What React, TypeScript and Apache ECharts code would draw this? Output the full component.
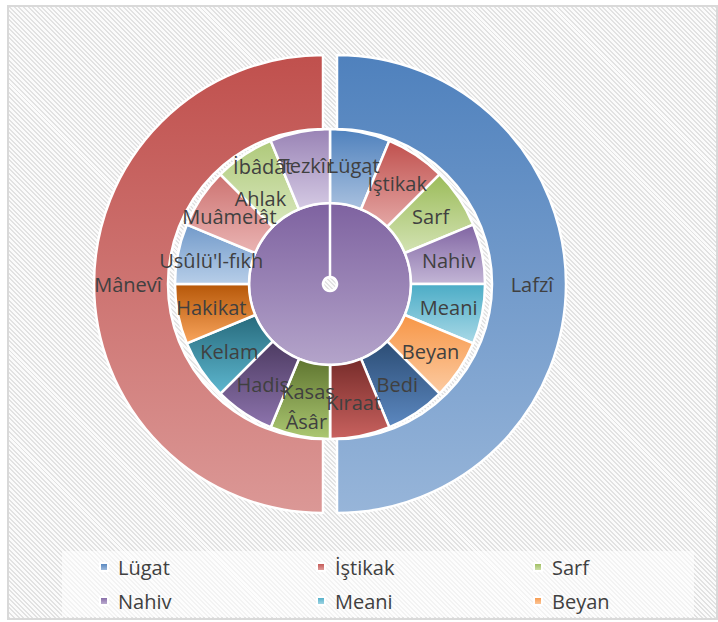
import React, { useEffect, useRef } from "react";
import * as echarts from "echarts";

const outerNames = ["Lafzî", "Mânevî"];
const outerValues = [8, 8];

const innerNames = [
  "Lügat", "İştikak", "Sarf", "Nahiv", "Meani", "Beyan", "Bedi", "Kıraat",
  "Kasas", "Âsâr", "Hadis", "Kelam", "Hakikat", "Usûlü'l-fıkh", "Muâmelât",
  "Ahlak", "İbâdât", "Tezkîr",
];
const innerValues = [1, 1, 1, 1, 1, 1, 1, 1, 0, 1, 1, 1, 1, 1, 1, 0, 1, 1];

const legendNames = ["Lügat", "İştikak", "Sarf", "Nahiv", "Meani", "Beyan"];

// gradient stops (top, bottom) per inner slice
const innerColors: [string, string][] = [
  ["#4F81BD", "#A9C1DF"],
  ["#C0504D", "#E4A7A5"],
  ["#9BBB59", "#D3E3B3"],
  ["#8064A2", "#C3B6D6"],
  ["#4BACC6", "#A9D9E7"],
  ["#F79646", "#FCCBA2"],
  ["#2C4D75", "#5C88C0"],
  ["#772C2A", "#C9625F"],
  ["#5F7530", "#ACC872"],
  ["#5F7530", "#ACC872"],
  ["#4D3B62", "#8D74AD"],
  ["#276A7C", "#5DB7CF"],
  ["#B65708", "#F9A55D"],
  ["#729ACA", "#B7CEE8"],
  ["#CD7371", "#EAB4B3"],
  ["#AFC97A", "#D9E8BE"],
  ["#AFC97A", "#D9E8BE"],
  ["#9983B5", "#D5CAE4"],
];
const outerColors: [string, string][] = [
  ["#4F81BD", "#97B5D9"],
  ["#C0504D", "#DB9896"],
];
const coreColor: [string, string] = ["#7E62A0", "#B4A4CA"];

const labelNudge: Record<string, [number, number]> = {
  Kasas: [-22, -14],
  "Âsâr": [0, 19],
  Ahlak: [16, 0],
  "İbâdât": [0, -17],
};

const FONT = "'Open Sans', Lato, sans-serif";
const TXT = "#404040";

function grad(c: [string, string]) {
  return new echarts.graphic.LinearGradient(0, 0, 0, 1, [
    { offset: 0, color: c[0] },
    { offset: 1, color: c[1] },
  ]);
}

export default function App() {
  const ref = useRef<HTMLDivElement>(null);

  useEffect(() => {
    if (!ref.current) return;
    const chart = echarts.init(ref.current, null, { renderer: "svg" });

    const cx = 330;
    const cy = 284;
    const shift = 7;
    const R0 = 7, R1 = 81, R2 = 155, R3 = 229;

    const labelStyle = {
      show: true,
      position: "inside",
      color: TXT,
      fontFamily: FONT,
      fontSize: 20,
    };

    const border = { borderColor: "#ffffff", borderWidth: 2.5 };

    const innerData = innerNames.map((n, i) => ({
      name: n,
      value: innerValues[i],
      itemStyle: { color: grad(innerColors[i]), ...border },
    }));

    const outerSeries = outerNames.map((n, i) => {
      const real = {
        name: n,
        value: outerValues[i],
        itemStyle: { color: grad(outerColors[i]), ...border },
        label: { ...labelStyle },
      };
      const blank = {
        name: "blank" + i,
        value: outerValues[1 - i],
        itemStyle: { color: "rgba(0,0,0,0)", borderWidth: 0 },
        label: { show: false },
        emphasis: { disabled: true },
      };
      return {
        type: "pie",
        center: [i === 0 ? cx + shift : cx - shift, cy],
        radius: [R2, R3],
        startAngle: 90,
        clockwise: true,
        silent: true,
        labelLine: { show: false },
        data: i === 0 ? [real, blank] : [blank, real],
      };
    });

    const legends = legendNames.map((n, i) => ({
      data: [n],
      left: 99 + (i % 3) * 217,
      top: 557 + Math.floor(i / 3) * 34,
      padding: 0,
      icon: "rect",
      itemWidth: 8,
      itemHeight: 8,
      selectedMode: false,
      textStyle: {
        color: TXT,
        fontFamily: FONT,
        fontSize: 20,
        padding: [0, 0, 0, 5],
      },
    }));

    chart.setOption({
      animation: false,
      backgroundColor: "transparent",
      graphic: [
        {
          type: "rect",
          left: 62,
          top: 551,
          shape: { width: 632, height: 66 },
          style: { fill: "rgba(255,255,255,0.6)" },
          z: 0,
        },
      ],
      legend: legends,
      series: [
        {
          type: "pie",
          center: [cx, cy],
          radius: [R0, R1],
          startAngle: 90,
          clockwise: true,
          silent: true,
          label: { show: false },
          labelLine: { show: false },
          data: [
            { name: "core", value: 1, itemStyle: { color: grad(coreColor), ...border } },
            { name: "coreEdge", value: 0, itemStyle: { color: grad(coreColor), ...border } },
          ],
        },
        {
          type: "pie",
          center: [cx, cy],
          radius: [R1, R2],
          startAngle: 90,
          clockwise: true,
          silent: true,
          avoidLabelOverlap: false,
          label: labelStyle,
          labelLine: { show: false },
          labelLayout: (p: any) => {
            const d = labelNudge[innerNames[p.dataIndex]];
            return d ? { dx: d[0], dy: d[1] } : {};
          },
          data: innerData,
        },
        ...outerSeries,
      ],
    });

    return () => chart.dispose();
  }, []);

  return (
    <div style={{ position: "absolute", left: 0, top: 0, width: 718, height: 622, background: "#ffffff" }}>
      <div
        style={{
          position: "absolute",
          left: 7,
          top: 5,
          width: 711,
          height: 615,
          boxSizing: "border-box",
          border: "2px solid #d9d9d9",
          background:
            "repeating-linear-gradient(45deg, #e2e2e2 0px, #e2e2e2 1.4px, #fbfbfb 1.4px, #fbfbfb 3.2px)",
        }}
      />
      <div ref={ref} style={{ position: "absolute", left: 0, top: 0, width: 718, height: 622 }} />
    </div>
  );
}
